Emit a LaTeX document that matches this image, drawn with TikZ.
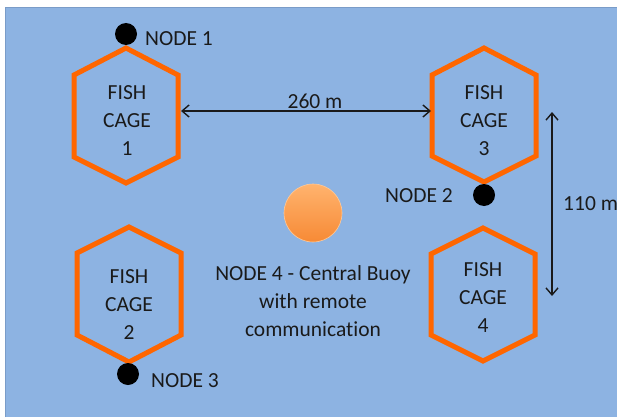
\documentclass[tikz,border=0pt]{standalone}
\usepackage{fontspec}
\setmainfont[Ligatures=NoCommon]{Carlito}
\usetikzlibrary{arrows.meta}
\definecolor{sea}{HTML}{8DB3E2}
\definecolor{seaedge}{HTML}{7A9CC8}
\definecolor{cage}{HTML}{FF6600}
\definecolor{ink}{HTML}{1A1A1A}
\definecolor{buoytop}{HTML}{FFB36E}
\definecolor{buoybot}{HTML}{F78A35}
\tikzset{
  hexcage/.style={draw=cage, line width=5pt, line join=miter},
  cagetext/.style={text=ink, font=\fontsize{21.5}{28}\selectfont, align=center, inner sep=0pt},
  lbl/.style={text=ink, font=\fontsize{21.5}{28}\selectfont, inner sep=0pt},
  sensor/.style={circle, fill=black, minimum size=22pt, inner sep=0pt},
  dim/.style={draw=ink, line width=1.4pt, {Straight Barb[length=7pt,width=12pt]}-{Straight Barb[length=7pt,width=12pt]}},
}
\begin{document}
\begin{tikzpicture}[x=1pt,y=-1pt]
\useasboundingbox (0,0) rectangle (617,417);
\fill[white] (0,0) rectangle (617,417);
\fill[sea] (5,7) rectangle (617,417);
\draw[seaedge, line width=0.8pt] (5,417) -- (5,7) -- (617,7);

% cages
\draw[hexcage] (126,48) -- (178,75) -- (178,157) -- (126,183) -- (74,157) -- (74,75) -- cycle;
\draw[hexcage] (484,48) -- (536,75) -- (536,156) -- (484,182) -- (432,156) -- (432,75) -- cycle;
\draw[hexcage] (129,227) -- (181,253) -- (181,335) -- (129,362) -- (77,335) -- (77,253) -- cycle;
\draw[hexcage] (483,228) -- (535,254) -- (535,335) -- (483,361) -- (431,335) -- (431,254) -- cycle;

\node[cagetext] (cage1) at (127,121) {FISH\\CAGE\\1};
\node[cagetext] (cage3) at (484,121) {FISH\\CAGE\\3};
\node[cagetext] (cage2) at (129,305) {FISH\\CAGE\\2};
\node[cagetext] (cage4) at (483,298) {FISH\\CAGE\\4};

% sensor nodes
\node[sensor] (n1) at (126,34) {};
\node[lbl, anchor=west] (n1l) at (145,39) {NODE 1};
\node[sensor] (n2) at (484,195) {};
\node[lbl, anchor=east] (n2l) at (453,196) {NODE 2};
\node[sensor] (n3) at (128,374) {};
\node[lbl, anchor=west] (n3l) at (151,381) {NODE 3};

% buoy
\node[circle, minimum size=58pt, inner sep=0pt, top color=buoytop, bottom color=buoybot, draw=buoytop!70!white, line width=0.6pt] (buoy) at (313,213) {};
\node[cagetext] (buoyl) at (313,301) {NODE 4 - Central Buoy\\with remote\\communication};

% dimensions
\coordinate (c1e) at (181,111);
\coordinate (c3w) at (431,111);
\draw[dim] (c1e) -- (c3w);
\node[lbl] (d1) at (315,101) {260 m};
\coordinate (vt) at (552,112);
\coordinate (vb) at (552,296);
\draw[dim] (vt) -- (vb);
\node[lbl, anchor=west] (d2) at (563,204) {110 m};
\end{tikzpicture}
\end{document}
